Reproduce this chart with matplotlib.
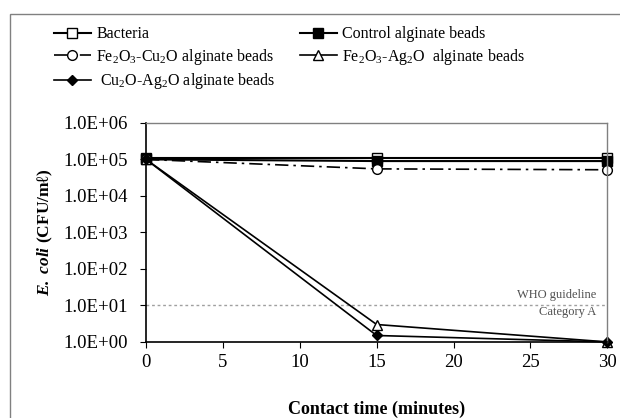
import matplotlib.pyplot as plt
from matplotlib.patches import Rectangle
from matplotlib.ticker import FixedLocator, FuncFormatter

plt.rcParams['font.family'] = ['Liberation Serif', 'DejaVu Serif']
plt.rcParams['mathtext.fontset'] = 'custom'
plt.rcParams['mathtext.rm'] = 'Liberation Serif'
plt.rcParams['mathtext.it'] = 'Liberation Serif:italic'
plt.rcParams['mathtext.bf'] = 'Liberation Serif:bold'
plt.rcParams['mathtext.bfit'] = 'Liberation Serif:italic:bold'

# ── Podaci ───────────────────────────────────────────────
vreme = [0, 15, 30]
bacteria = [1.1e5, 1.1e5, 1.1e5]
control = [1.0e5, 9.0e4, 9.0e4]
fe_cu = [1.0e5, 5.5e4, 5.2e4]
fe_ag = [1.0e5, 3.0, 1.0]
cu_ag = [1.0e5, 1.5, 1.0]
who_limit = 10

fig = plt.figure(figsize=(6.2, 4.18), dpi=100)
ax = fig.add_axes([0.2355, 0.182, 0.744, 0.524])

# spoljni okvir (kao u Excelu)
fig.patches.append(Rectangle((10 / 620, -0.1), 1.2, 1 - 14 / 418 + 0.1,
                             transform=fig.transFigure, fill=False,
                             edgecolor='#808080', lw=1.0))

ax.axhline(who_limit, color='#a0a0a0', lw=1.0, ls=(0, (2, 2)), zorder=1)

l1, = ax.plot(vreme, bacteria, color='black', lw=1.5, marker='s', ms=7,
              mfc='white', mec='black', mew=1.0, label='Bacteria', clip_on=False)
l2, = ax.plot(vreme, control, color='black', lw=1.5, marker='s', ms=7,
              mfc='black', mec='black', label='Control alginate beads', clip_on=False)
l3, = ax.plot(vreme, fe_cu, color='black', lw=1.2, ls=(0, (8, 3, 1.5, 3)),
              marker='o', ms=7, mfc='white', mec='black', mew=1.0,
              label='Fe$_2$O$_3$-Cu$_2$O alginate beads', clip_on=False)
l4, = ax.plot(vreme, fe_ag, color='black', lw=1.2, marker='^', ms=7.5,
              mfc='white', mec='black', mew=1.0,
              label='Fe$_2$O$_3$-Ag$_2$O  alginate beads', clip_on=False)
l5, = ax.plot(vreme, cu_ag, color='black', lw=1.2, marker='D', ms=5.5,
              mfc='black', mec='black',
              label=' Cu$_2$O-Ag$_2$O alginate beads', clip_on=False)

ax.set_yscale('log')
ax.set_ylim(1, 1e6)
ax.set_xlim(0, 30)
ax.xaxis.set_major_locator(FixedLocator([0, 5, 10, 15, 20, 25, 30]))
ax.yaxis.set_major_locator(FixedLocator([1, 10, 100, 1e3, 1e4, 1e5, 1e6]))
ax.yaxis.set_minor_locator(FixedLocator([]))
ax.yaxis.set_major_formatter(FuncFormatter(lambda v, p: '%.1E' % v))
ax.tick_params(axis='both', labelsize=13.5, direction='out', length=4,
               color='black')
ax.tick_params(axis='y', pad=9)
ax.tick_params(axis='x', pad=5)

for s in ['top', 'right']:
    ax.spines[s].set_color('#808080')
    ax.spines[s].set_linewidth(1.0)
for s in ['left', 'bottom']:
    ax.spines[s].set_color('black')
    ax.spines[s].set_linewidth(1.2)

ax.text(29.3, who_limit * 1.35, 'WHO guideline', ha='right', va='bottom',
        fontsize=9, color='#505050')
ax.text(29.3, who_limit / 1.02, 'Category A', ha='right', va='top',
        fontsize=9, color='#505050')

ax.set_xlabel('Contact time (minutes)', fontsize=13, fontweight='bold',
              labelpad=21)
ax.set_ylabel(r'$\mathbfit{E.\ coli}$ (CFU/m' + '\u2113)',
              fontsize=12.5, fontweight='bold', labelpad=6)

handles = [l1, l3, l5, l2, l4]
fig.legend(handles, [h.get_label() for h in handles], ncol=2,
           loc='upper left', bbox_to_anchor=(0.077, 0.952), frameon=False,
           fontsize=11.5, handlelength=2.3, handletextpad=0.35,
           columnspacing=1.5, labelspacing=0.28, borderaxespad=0)

fig.savefig('out.png', dpi=100)
